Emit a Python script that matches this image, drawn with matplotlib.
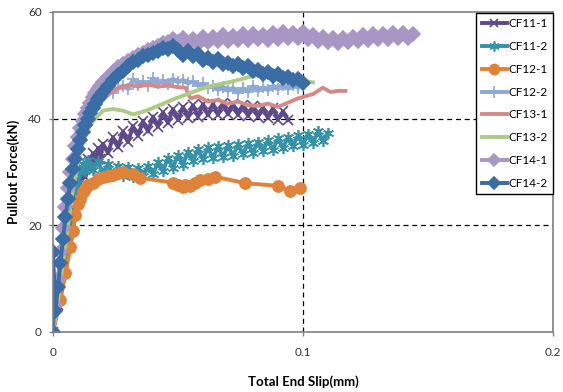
import matplotlib
matplotlib.use("Agg")
import matplotlib.pyplot as plt

plt.rcParams["font.family"] = ["Lato", "DejaVu Sans"]

# (slip mm, pullout force kN) pairs
cf11_1 = [(0, 0), (.002, 5), (.004, 11), (.006, 17), (.008, 22), (.010, 26.5), (.011, 28), (.012, 30.5),
          (.013, 29), (.014, 32.5), (.015, 30.5), (.016, 33.5), (.017, 31.8), (.018, 34.5), (.019, 32.5),
          (.020, 35.3), (.022, 33.5), (.024, 36.5), (.026, 34.6), (.028, 37.6), (.030, 35.6), (.032, 38.6),
          (.034, 36.8), (.036, 39.5), (.038, 37.6), (.040, 40.4), (.042, 38.5), (.044, 41.2), (.046, 39.2),
          (.048, 41.8), (.050, 39.8), (.052, 42.2), (.054, 40.2), (.056, 42.5), (.058, 40.4), (.060, 42.7),
          (.062, 40.6), (.064, 42.8), (.066, 40.7), (.068, 42.9), (.070, 40.8), (.072, 42.8), (.074, 40.7),
          (.076, 42.6), (.078, 40.5), (.080, 42.4), (.082, 40.3), (.084, 42.2), (.086, 40.1), (.088, 42),
          (.090, 39.8), (.092, 41.4), (.094, 39.8)]

cf11_2 = [(0, 0), (.002, 6), (.004, 12), (.006, 18), (.008, 24), (.010, 28), (.011, 30), (.012, 31.5),
          (.013, 30.2), (.014, 32.2), (.016, 30.4), (.018, 32), (.020, 29.8), (.022, 31.5), (.024, 29.4),
          (.026, 31.2), (.028, 29.2), (.030, 31), (.032, 29), (.034, 30.8), (.036, 29.2), (.038, 31.2),
          (.040, 29.6), (.042, 31.8), (.044, 30.2), (.046, 32.6), (.048, 30.8), (.050, 33.2), (.052, 31.4),
          (.054, 33.8), (.056, 32), (.058, 34.3), (.060, 32.4), (.062, 34.6), (.064, 32.6), (.066, 34.8),
          (.068, 32.8), (.070, 35), (.072, 33), (.074, 35.2), (.076, 33.3), (.078, 35.4), (.080, 33.6),
          (.082, 35.7), (.084, 33.9), (.086, 36), (.088, 34.2), (.090, 36.3), (.092, 34.5), (.094, 36.6),
          (.096, 34.8), (.098, 36.9), (.100, 35.1), (.102, 37.2), (.104, 35.4), (.106, 37.6), (.108, 35.8),
          (.110, 37.4)]

cf12_1 = [(0, 0), (.003, 6), (.005, 11), (.007, 16), (.008, 19), (.009, 22), (.010, 24), (.011, 25),
          (.012, 26.2), (.013, 26.8), (.014, 27.5), (.016, 28), (.018, 28.7), (.020, 29), (.022, 29.3),
          (.024, 29.5), (.026, 29.8), (.028, 30), (.032, 29.6), (.035, 28.9), (.048, 28), (.050, 27.6),
          (.052, 27.2), (.053, 27.5), (.055, 27.3), (.057, 28), (.059, 28.5), (.062, 28.6), (.065, 29.1),
          (.077, 27.9), (.090, 27.4), (.095, 26.4), (.099, 27)]

cf12_2 = [(0, 0), (.002, 8), (.004, 16), (.006, 24), (.008, 30), (.010, 35), (.012, 38.5), (.014, 41),
          (.016, 42.5), (.018, 43.5), (.020, 44.5), (.022, 45.2), (.024, 44.8), (.026, 45.8), (.028, 46.2),
          (.030, 45.6), (.032, 47.4), (.034, 46.4), (.036, 47), (.038, 46.2), (.040, 47.6), (.042, 46.6),
          (.044, 47.2), (.046, 46.5), (.048, 47.5), (.050, 46.8), (.052, 47.3), (.054, 46.6), (.056, 47),
          (.058, 46.2), (.060, 46.6), (.062, 45.8), (.064, 46.2), (.066, 45.4), (.068, 46), (.070, 45.2),
          (.072, 45.8), (.074, 44.8), (.076, 45.7), (.078, 45), (.080, 46.1), (.082, 45.2), (.084, 45.9),
          (.086, 45.3), (.088, 46.2), (.090, 45.5), (.092, 46.3), (.094, 45.6), (.096, 46.4), (.098, 45.8),
          (.100, 46.3)]

cf13_1 = [(0, 0), (.002, 7), (.004, 14), (.006, 21), (.008, 27), (.010, 32), (.012, 36), (.015, 40),
          (.018, 42.5), (.021, 44), (.024, 45.2), (.027, 45.8), (.030, 46.3), (.034, 46), (.038, 46.4),
          (.042, 46), (.046, 46.2), (.050, 45.9), (.053, 45.8), (.055, 43.8), (.058, 44.2), (.062, 43.2),
          (.066, 43.5), (.070, 42.8), (.074, 43.2), (.078, 42.5), (.082, 42.4), (.086, 42.8), (.090, 42.2),
          (.094, 43), (.098, 43.8), (.101, 44.2), (.104, 44.6), (.108, 45.8), (.111, 45), (.114, 45.2),
          (.117, 45.2)]

cf13_2 = [(0, 0), (.002, 6), (.004, 13), (.006, 20), (.008, 27), (.010, 32), (.012, 35.5), (.014, 38),
          (.016, 39.5), (.018, 40.5), (.020, 41.5), (.024, 41.8), (.028, 41.5), (.032, 40.8), (.036, 41.3),
          (.040, 42), (.044, 42.8), (.048, 43.6), (.052, 44.3), (.056, 45), (.060, 45.7), (.064, 46.2),
          (.068, 46.6), (.072, 47), (.076, 47.5), (.080, 48), (.084, 48.4), (.088, 48.8), (.092, 48.3),
          (.096, 47.6), (.100, 47.1), (.104, 46.8)]

cf14_1 = [(0, 0), (.001, 5), (.002, 10), (.003, 15), (.004, 19.5), (.005, 23.5), (.006, 27), (.007, 30),
          (.008, 32.5), (.009, 34.8), (.010, 36.6), (.011, 38.2), (.012, 39.6), (.013, 40.9), (.014, 42),
          (.015, 43), (.016, 44), (.017, 44.8), (.018, 45.5), (.019, 46.2), (.020, 46.8), (.022, 47.9),
          (.024, 48.8), (.026, 49.6), (.028, 50.2), (.030, 50.8), (.032, 51.3), (.034, 51.9), (.036, 52.3),
          (.038, 52.8), (.040, 53.3), (.042, 53.6), (.044, 54.1), (.046, 54.3), (.048, 54.9), (.050, 54.4),
          (.052, 55.2), (.054, 54.2), (.056, 55.0), (.058, 54.0), (.060, 55.3), (.062, 54.3), (.064, 55.4),
          (.066, 54.5), (.068, 55.6), (.070, 54.6), (.072, 55.5), (.074, 54.7), (.076, 55.8), (.078, 54.8),
          (.080, 55.9), (.082, 54.9), (.084, 55.7), (.086, 54.8), (.088, 56.0), (.090, 55.0), (.092, 56.2),
          (.094, 55.1), (.096, 56.0), (.098, 55.2), (.100, 56.3), (.102, 55.0), (.104, 55.6), (.106, 54.6),
          (.108, 55.3), (.110, 54.3), (.112, 55.1), (.114, 54.2), (.116, 55.2), (.118, 54.4), (.120, 55.4),
          (.122, 54.6), (.124, 55.6), (.126, 54.7), (.128, 55.8), (.130, 54.9), (.132, 55.9), (.134, 55.0),
          (.136, 56.0), (.138, 55.1), (.140, 56.1), (.142, 55.2), (.144, 55.8)]

cf14_2 = [(0, 0), (0, 15), (.001, 4), (.002, 8.5), (.003, 13), (.004, 17.5), (.005, 21.5), (.006, 25),
          (.007, 28), (.008, 30.5), (.009, 32.5), (.010, 34.3), (.011, 36), (.012, 37.5), (.013, 38.8),
          (.014, 40), (.015, 41), (.016, 42), (.017, 42.8), (.018, 43.6), (.019, 44.3), (.020, 45),
          (.022, 46.2), (.024, 47.2), (.026, 48.2), (.028, 49), (.030, 49.8), (.032, 50.6), (.034, 51),
          (.036, 51.7), (.038, 51.9), (.040, 52.4), (.042, 52.6), (.044, 53.3), (.046, 53), (.048, 53.7),
          (.050, 52.8), (.052, 52), (.054, 52.6), (.056, 51.8), (.058, 52.1), (.060, 51), (.062, 51.4),
          (.064, 50.6), (.066, 51.1), (.068, 50.3), (.070, 50.5), (.072, 49.8), (.074, 50.2), (.076, 49.5),
          (.078, 49.8), (.080, 48.9), (.082, 49.1), (.084, 48.4), (.086, 48.8), (.088, 48), (.090, 48.3),
          (.092, 47.6), (.094, 47.9), (.096, 47.2), (.098, 47.4), (.100, 46.6)]

labels = ["CF11-1", "CF11-2", "CF12-1", "CF12-2", "CF13-1", "CF13-2", "CF14-1", "CF14-2"]
series = [cf11_1, cf11_2, cf12_1, cf12_2, cf13_1, cf13_2, cf14_1, cf14_2]
colors = ["#5E4A8A", "#3592A8", "#E0823A", "#8EA9D4", "#D48A87", "#ADCB84", "#A897C4", "#3A6DA6"]
markers = ["x", (6, 2, 0), "o", "+", None, None, "D", "D"]
msizes = [7, 8, 8, 9, 0, 0, 7, 7]

fig = plt.figure(figsize=(5.63, 3.92), dpi=100)
ax = fig.add_axes([0.0941, 0.1531, 0.8881, 0.8163])

for pts, c, m, ms, lab in zip(series, colors, markers, msizes, labels):
    x = [p[0] for p in pts]
    y = [p[1] for p in pts]
    ax.plot(x, y, color=c, lw=2.8, marker=m, ms=ms, mew=1.2, mec=c, mfc=c, label=lab)

ax.set_xlim(0, 0.2)
ax.set_ylim(0, 60)
ax.set_xticks([0, 0.1, 0.2])
ax.set_xticklabels(["0", "0.1", "0.2"])
ax.set_yticks([0, 20, 40, 60])
for v in [20, 40]:
    ax.axhline(v, color="black", lw=0.9, ls=(0, (4, 3)), zorder=0)
ax.axvline(0.1, color="black", lw=0.9, ls=(0, (4, 3)), zorder=0)

for s in ax.spines.values():
    s.set_color("#808080")
    s.set_linewidth(1.2)
ax.tick_params(length=3, width=1, color="#808080", labelsize=8.5, labelcolor="#333333")
ax.tick_params(axis="x", pad=8)
ax.tick_params(axis="y", pad=5)

ax.set_xlabel("Total End Slip(mm)", fontsize=9.5, fontweight="bold", labelpad=12)
ax.set_ylabel("Pullout Force(kN)", fontsize=9.5, fontweight="bold", labelpad=6)

leg = ax.legend(loc="upper right", bbox_to_anchor=(1.0, 0.997), borderaxespad=0, fontsize=8.5,
                fancybox=False, framealpha=1, edgecolor="black", handlelength=2.1,
                handletextpad=0.15, labelspacing=1.0, borderpad=0.45, markerscale=0.9)
leg.get_frame().set_linewidth(1.0)

plt.savefig("out.png", dpi=100)
